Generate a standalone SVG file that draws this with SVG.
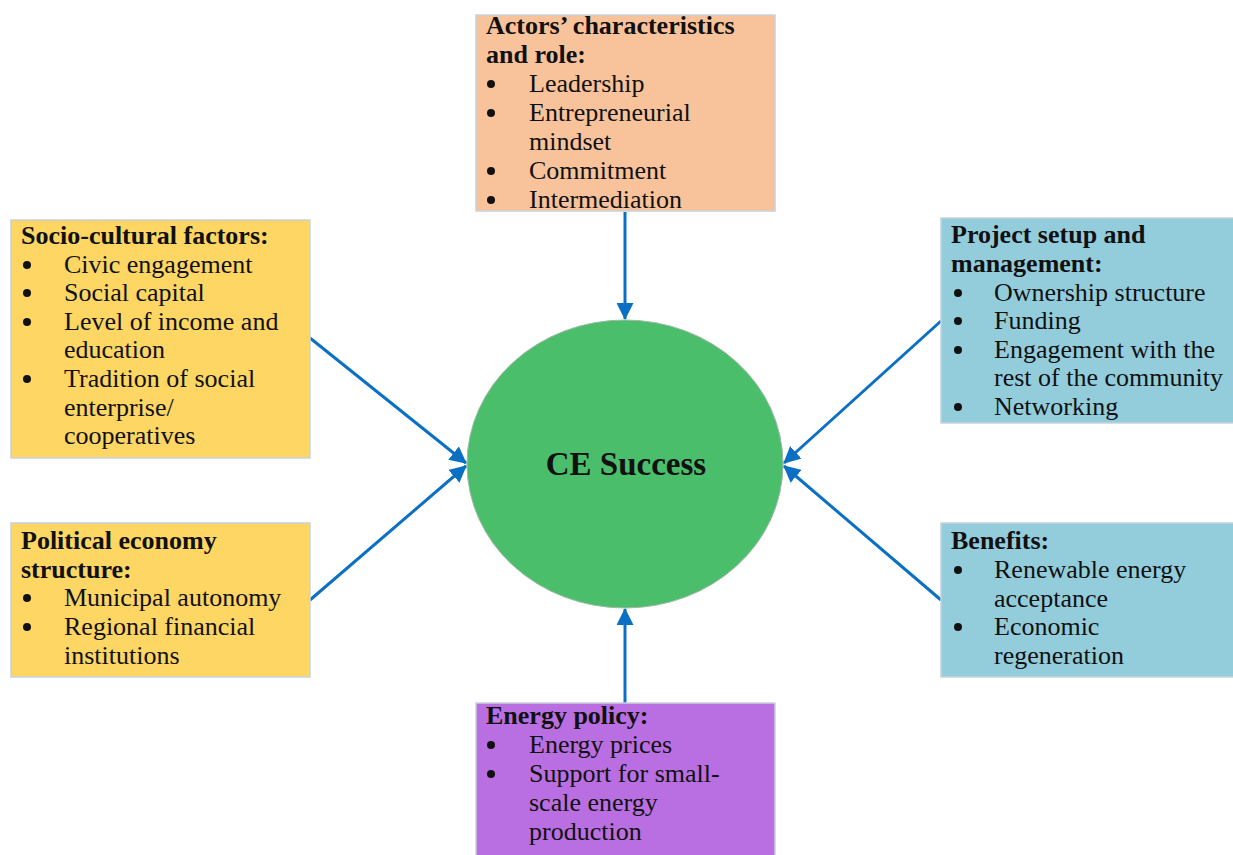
<svg xmlns="http://www.w3.org/2000/svg" width="1233" height="855" viewBox="0 0 1233 855">
<defs>
<marker id="ah" viewBox="0 0 16 16" refX="15" refY="8" markerWidth="17" markerHeight="17" markerUnits="userSpaceOnUse" orient="auto">
<path d="M0,0 L16,8 L0,16 Z" fill="#0B70C4"/>
</marker>
</defs>
<style>
text{font-family:"Liberation Serif","Times New Roman",serif;font-size:26px;fill:#111}
.t{font-weight:bold}
.box{stroke:#C8D2DC;stroke-width:1.5}
.conn{stroke:#0B70C4;stroke-width:3;fill:none;marker-end:url(#ah)}
.b{fill:#111}
</style>
<rect width="1233" height="855" fill="#fff"/>
<g id="connectors">
<line class="conn" x1="625" y1="212" x2="625" y2="319"/>
<line class="conn" x1="625" y1="703" x2="625" y2="609"/>
<line class="conn" x1="310" y1="338" x2="466" y2="463"/>
<line class="conn" x1="310" y1="600" x2="466" y2="466"/>
<line class="conn" x1="941" y1="321" x2="784" y2="463"/>
<line class="conn" x1="941" y1="600" x2="784" y2="466"/>
</g>
<g id="ce-success">
<ellipse cx="625" cy="464" rx="158" ry="144" fill="#4BBE6B" stroke="#9DB8A6" stroke-width="1"/>
<text class="t" x="626" y="475" text-anchor="middle" style="font-size:33px">CE Success</text>
</g>
<g id="actors">
<rect class="box" x="476" y="15" width="299" height="196" fill="#F8C39B"/>
<text class="t" x="486" y="34">Actors’ characteristics</text>
<text class="t" x="486" y="63">and role:</text>
<circle class="b" cx="491" cy="84" r="4"/><text x="529" y="92">Leadership</text>
<circle class="b" cx="491" cy="113" r="4"/><text x="529" y="121">Entrepreneurial</text>
<text x="529" y="150">mindset</text>
<circle class="b" cx="491" cy="171" r="4"/><text x="529" y="179">Commitment</text>
<circle class="b" cx="491" cy="200" r="4"/><text x="529" y="208">Intermediation</text>
</g>
<g id="socio-cultural">
<rect class="box" x="11" y="220" width="299" height="238" fill="#FDD663"/>
<text class="t" x="21" y="244">Socio-cultural factors:</text>
<circle class="b" cx="27" cy="265" r="4"/><text x="64" y="273">Civic engagement</text>
<circle class="b" cx="27" cy="293" r="4"/><text x="64" y="301">Social capital</text>
<circle class="b" cx="27" cy="322" r="4"/><text x="64" y="330">Level of income and</text>
<text x="64" y="358">education</text>
<circle class="b" cx="27" cy="379" r="4"/><text x="64" y="387">Tradition of social</text>
<text x="64" y="416">enterprise/</text>
<text x="64" y="444">cooperatives</text>
</g>
<g id="political">
<rect class="box" x="11" y="523" width="299" height="154" fill="#FDD663"/>
<text class="t" x="21" y="549">Political economy</text>
<text class="t" x="21" y="578">structure:</text>
<circle class="b" cx="27" cy="598" r="4"/><text x="64" y="606">Municipal autonomy</text>
<circle class="b" cx="27" cy="627" r="4"/><text x="64" y="635">Regional financial</text>
<text x="64" y="664">institutions</text>
</g>
<g id="project">
<rect class="box" x="941" y="218" width="293" height="205" fill="#93CDDC"/>
<text class="t" x="951" y="243">Project setup and</text>
<text class="t" x="951" y="272">management:</text>
<circle class="b" cx="958" cy="293" r="4"/><text x="994" y="301">Ownership structure</text>
<circle class="b" cx="958" cy="321" r="4"/><text x="994" y="329">Funding</text>
<circle class="b" cx="958" cy="350" r="4"/><text x="994" y="358">Engagement with the</text>
<text x="994" y="386">rest of the community</text>
<circle class="b" cx="958" cy="407" r="4"/><text x="994" y="415">Networking</text>
</g>
<g id="benefits">
<rect class="box" x="941" y="523" width="293" height="154" fill="#93CDDC"/>
<text class="t" x="951" y="549">Benefits:</text>
<circle class="b" cx="958" cy="570" r="4"/><text x="994" y="578">Renewable energy</text>
<text x="994" y="607">acceptance</text>
<circle class="b" cx="958" cy="627" r="4"/><text x="994" y="635">Economic</text>
<text x="994" y="664">regeneration</text>
</g>
<g id="energy-policy">
<rect class="box" x="476" y="703" width="299" height="160" fill="#B96FE1"/>
<text class="t" x="486" y="724">Energy policy:</text>
<circle class="b" cx="491" cy="745" r="4"/><text x="529" y="753">Energy prices</text>
<circle class="b" cx="491" cy="774" r="4"/><text x="529" y="782">Support for small-</text>
<text x="529" y="811">scale energy</text>
<text x="529" y="840">production</text>
</g>
</svg>
